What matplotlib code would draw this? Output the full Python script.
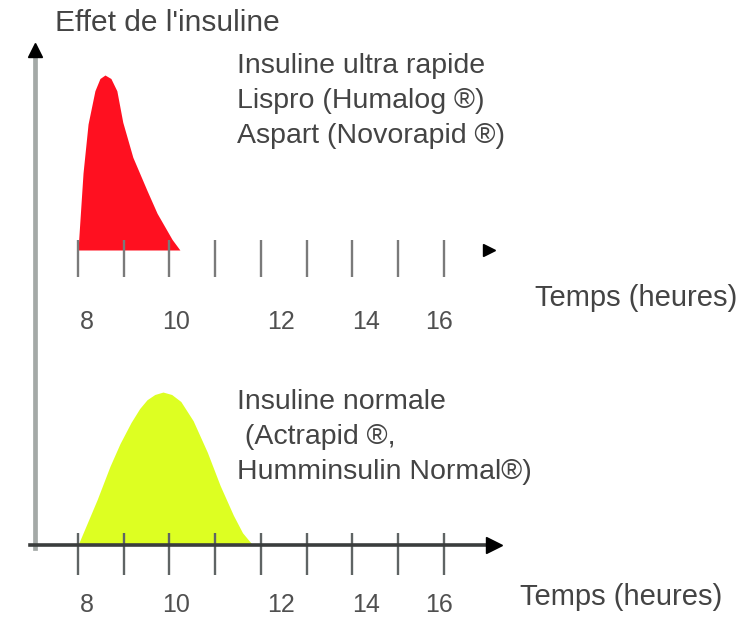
import numpy as np
import matplotlib
matplotlib.use("Agg")
import matplotlib.pyplot as plt

plt.rcParams['font.family'] = ['Liberation Sans', 'DejaVu Sans']

# Données (heures, effet relatif)
heures_rapide = [8.0, 8.11, 8.22, 8.37, 8.48, 8.59, 8.72, 8.85, 8.98, 9.2, 9.51, 9.73, 10.06, 10.23]
effet_rapide = [0.0, 0.44, 0.72, 0.91, 0.98, 1.0, 0.98, 0.91, 0.73, 0.53, 0.34, 0.21, 0.06, 0.0]

heures_normale = [8.0, 8.42, 8.7, 8.92, 9.16, 9.35, 9.51, 9.68, 9.86, 10.05, 10.25, 10.52,
                  10.83, 11.11, 11.4, 11.6, 11.79, 11.85]
effet_normale = [0.0, 0.26, 0.45, 0.58, 0.70, 0.78, 0.83, 0.86, 0.874, 0.86, 0.82, 0.71,
                 0.53, 0.34, 0.17, 0.07, 0.01, 0.0]

graduations = [8, 9, 10, 11, 12, 13, 14, 15, 16]
etiquettes = ['8', '10', '12', '14', '16']

titre_y = "Effet de l'insuline"
titre_x = "Temps (heures)"
texte_rapide = ["Insuline ultra rapide", "Lispro (Humalog ®)", "Aspart (Novorapid ®)"]
texte_normale = ["Insuline normale", " (Actrapid ®,", "Humminsulin Normal®)"]

# Mise en page (pixels)
W, H = 755, 623
px_h0, px_par_h = 78, 45.7          # x pixel de 8 h, pixels par heure
haut_unite = 175                     # pixels pour effet = 1
etiq_pos = [8.2, 10.15, 12.45, 14.3, 15.9]
col_txt = '#444444'

fig = plt.figure(figsize=(W / 100, H / 100), dpi=100)

# calque décor en pixels
deco = fig.add_axes([0, 0, 1, 1])
deco.set_xlim(0, W)
deco.set_ylim(H, 0)
deco.axis('off')


def axe_donnees(base_px):
    a = fig.add_axes([0, 0, 1, 1])
    a.patch.set_alpha(0)
    a.set_xlim(8 - px_h0 / px_par_h, 8 + (W - px_h0) / px_par_h)
    a.set_ylim((base_px - H) / haut_unite, base_px / haut_unite)
    a.axis('off')
    return a


ax_haut = axe_donnees(250)
ax_bas = axe_donnees(545)

# courbes
ax_haut.fill_between(heures_rapide, 0, effet_rapide, color='#ff1020', lw=0, zorder=1)
ax_bas.fill_between(heures_normale, 0, effet_normale, color='#ddff22', lw=0, zorder=1)

# graduations
ax_haut.vlines(graduations, -27 / haut_unite, 10 / haut_unite, color='#7a7a7a', lw=1.7, zorder=2)
ax_bas.vlines(graduations, -30 / haut_unite, 12 / haut_unite, color='#5f6464', lw=1.7, zorder=2)

# axe horizontal du bas
ax_bas.plot([8 - 48 / px_par_h, 16 + 45 / px_par_h], [0, 0], color='#3a3d3d', lw=2.6, zorder=3)
ax_bas.plot([16 + 50 / px_par_h], [0], marker='>', color='black', ms=11, zorder=4)
ax_haut.plot([16 + 45 / px_par_h], [0], marker='>', color='black', ms=8, zorder=4)

# axe vertical
deco.plot([35, 35], [548, 52], color='#a4a9a7', lw=3.4, zorder=1)
deco.plot([35], [50], marker='^', color='black', ms=10, zorder=2)

# étiquettes des graduations
for p, e in zip(etiq_pos, etiquettes):
    ax_haut.text(p, -72 / haut_unite, e, ha='center', va='center', fontsize=18, color='#505050')
    ax_bas.text(p, -60 / haut_unite, e, ha='center', va='center', fontsize=18, color='#505050')

# textes
deco.text(55, 23, titre_y, ha='left', va='center', fontsize=21.5, color=col_txt)
deco.text(535, 298, titre_x, ha='left', va='center', fontsize=21, color=col_txt)
deco.text(520, 597, titre_x, ha='left', va='center', fontsize=21, color=col_txt)

for i, t in enumerate(texte_rapide):
    deco.text(237, 66 + 35 * i, t, ha='left', va='center', fontsize=20.5, color=col_txt)
for i, t in enumerate(texte_normale):
    deco.text(237, 402 + 35 * i, t, ha='left', va='center', fontsize=20.5, color=col_txt)

fig.savefig('out.png', dpi=100)
